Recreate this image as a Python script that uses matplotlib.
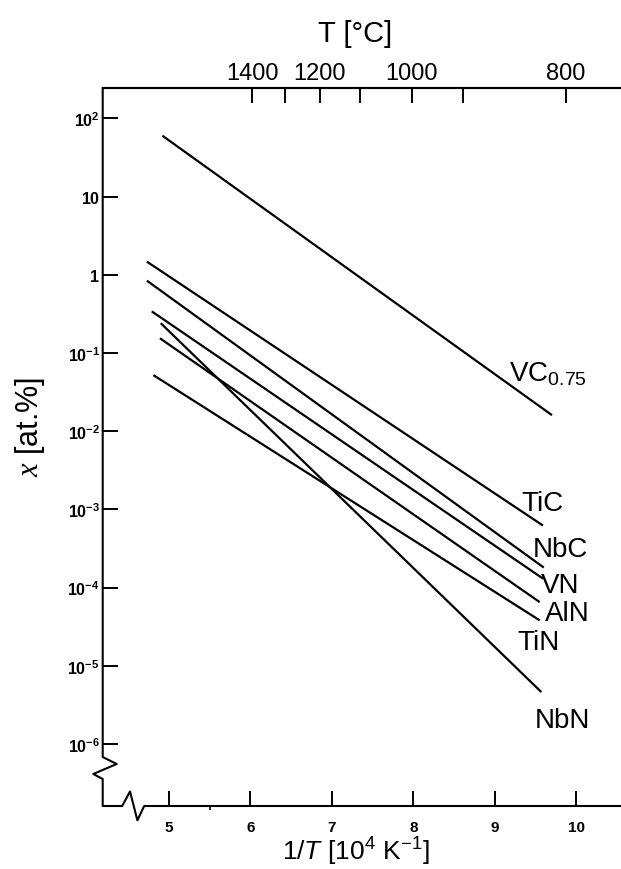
import numpy as np
import matplotlib
matplotlib.use("Agg")
import matplotlib.pyplot as plt
from matplotlib.lines import Line2D

plt.rcParams["font.family"] = ["Liberation Sans", "DejaVu Sans"]
plt.rcParams["mathtext.fontset"] = "custom"
plt.rcParams["mathtext.rm"] = "Liberation Sans"
plt.rcParams["mathtext.it"] = "Liberation Sans:italic"
plt.rcParams["mathtext.bf"] = "Liberation Sans:bold"
plt.rcParams["mathtext.cal"] = "Liberation Serif:italic"

# ----------------------------------------
# DATA: solubility lines (end points on the 1/T axis, x in at.%)
# ----------------------------------------
phases = ["VC", "TiC", "NbC", "VN", "AlN", "TiN", "NbN"]
inv_T_start = [4.92, 4.73, 4.73, 4.79, 4.89, 4.81, 4.90]
inv_T_end = [9.70, 9.59, 9.60, 9.59, 9.55, 9.55, 9.57]
x_start = [60, 1.47, 0.84, 0.34, 0.154, 0.052, 0.24]
x_end = [1.6e-2, 6.2e-4, 1.8e-4, 1.3e-4, 6.5e-5, 3.8e-5, 4.6e-6]

# Celsius scale on top
T_celsius = [1400, 1300, 1200, 1100, 1000, 900, 800]
T_celsius_pos = [6.02, 6.42, 6.85, 7.35, 7.98, 8.61, 9.87]
T_labelled = [1400, 1200, 1000, 800]

x_ticks = [5, 6, 7, 8, 9, 10]
y_exps = [2, 1, 0, -1, -2, -3, -4, -5, -6]

# ----------------------------------------
# LABEL PLACEMENT (left edge, baseline)
# ----------------------------------------
label_text = {"VC": "VC$_{0.75}$"}
label_pos = {
    "VC": (9.17, -1.355),
    "TiC": (9.32, -3.01),
    "NbC": (9.46, -3.60),
    "VN": (9.57, -4.06),
    "AlN": (9.61, -4.42),
    "TiN": (9.27, -4.79),
    "NbN": (9.49, -5.78),
}

W, H = 621, 870
fig = plt.figure(figsize=(W / 100, H / 100), dpi=100)
ax = fig.add_axes([102.7 / W, 1 - 807 / H, 1 - 102.7 / W, (807 - 89.3) / H])

for name, x0, x1, y0, y1 in zip(phases, inv_T_start, inv_T_end, x_start, x_end):
    ax.plot([x0, x1], [y0, y1], color="black", lw=1.6, solid_capstyle="butt")
    lx, ly = label_pos[name]
    ax.text(lx, 10 ** ly, label_text.get(name, name), fontsize=20,
            ha="left", va="baseline")

ax.set_yscale("log")
ax.set_xlim(4.188, 10.547)
ax.set_ylim(10 ** -6.794, 10 ** 2.384)

ax.set_xticks(x_ticks)
ax.set_xticklabels([str(v) for v in x_ticks], fontweight="bold")
ax.set_xticks([5.5], minor=True)
ax.set_yticks([10.0 ** e for e in y_exps])
ylabels = []
for e in y_exps:
    if e == 0:
        ylabels.append(r"$\mathbf{1}$")
    elif e == 1:
        ylabels.append(r"$\mathbf{10}$")
    else:
        ylabels.append(r"$\mathbf{10^{%d}}$" % e)
ax.set_yticklabels(ylabels)
ax.yaxis.set_minor_locator(matplotlib.ticker.NullLocator())

ax.tick_params(axis="y", which="major", direction="in", length=11, width=1.4,
               labelsize=11.5, pad=2)
ax.tick_params(axis="x", which="major", direction="in", length=10.5, width=1.4,
               labelsize=11, pad=10)
ax.tick_params(axis="x", which="minor", direction="out", length=3, width=1.2)

for s in ["left", "bottom", "right"]:
    ax.spines[s].set_visible(False)
ax.spines["top"].set_linewidth(1.5)

ax.set_xlabel(r"1/$\mathit{T}$ [10$^{4}$ K$^{\mathregular{-1}}$]", fontsize=19)
ax.xaxis.set_label_coords(0.489, -0.040)
ax.set_ylabel(r"$\mathcal{x}$ [at.%]", fontsize=22)
ax.yaxis.set_label_coords(-0.108, 0.529)

# temperature scale along the top
ax2 = ax.twiny()
ax2.set_xlim(ax.get_xlim())
ax2.set_xticks(T_celsius_pos)
ax2.set_xticklabels([str(t) if t in T_labelled else "" for t in T_celsius])
ax2.tick_params(axis="x", direction="in", length=11, width=1.4,
                labelsize=17, pad=3)
for s in ["left", "bottom", "right"]:
    ax2.spines[s].set_visible(False)
ax2.spines["top"].set_linewidth(1.5)
ax2.set_xlabel("T [°C]", fontsize=21)
ax2.xaxis.set_label_coords(0.487, 1.066)

# left and bottom spines with break marks
px = [102.7, 102.7, 116.7, 93.3, 102.7, 102.7, 122.2, 130.0, 137.4, 144.2, 621]
py = [89.3, 758, 765, 775, 780, 807, 807, 792.5, 821.3, 807, 807]
fig.add_artist(Line2D([p / W for p in px], [1 - p / H for p in py],
                      transform=fig.transFigure, color="black", lw=1.5))

fig.savefig("out.png", dpi=100)
